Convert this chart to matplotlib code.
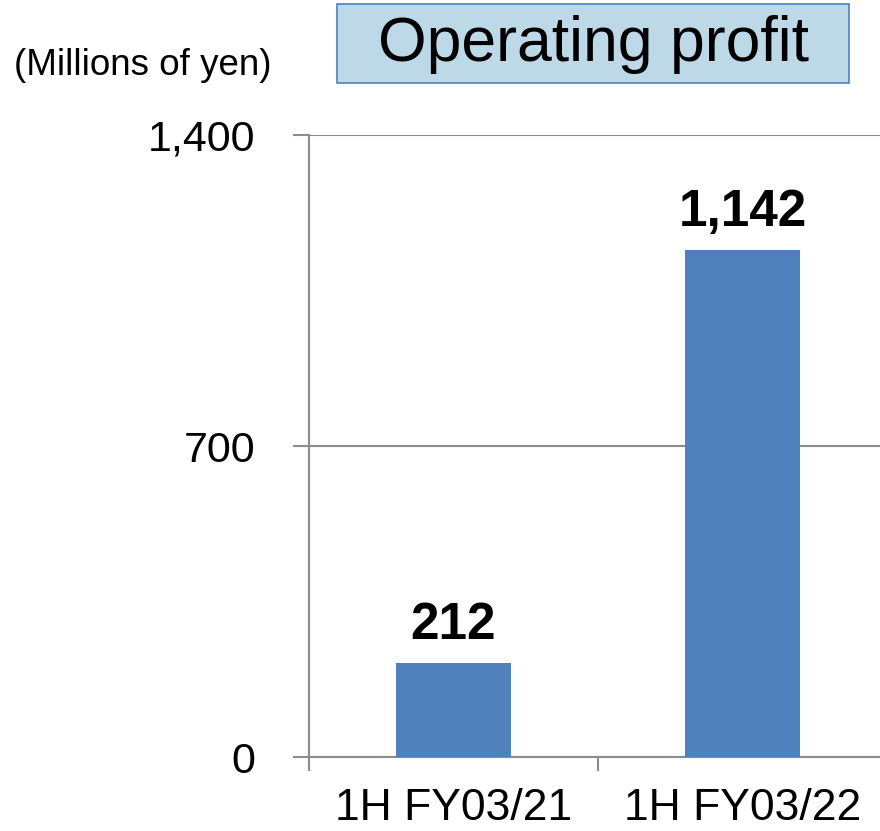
""" Operating profit, first half comparison """

import matplotlib.pyplot as plt
from matplotlib.patches import Rectangle
from matplotlib.ticker import FuncFormatter

periods = ['1H FY03/21', '1H FY03/22']
profit = [212, 1142]
y_ticks = [0, 700, 1400]


def main():
    plt.rcParams['font.family'] = ['Liberation Sans', 'DejaVu Sans']

    fig = plt.figure(figsize=(8.8, 8.31), dpi=100)
    ax = fig.add_axes([0.351, 0.089, 0.657, 0.7485])

    xs = range(len(periods))
    ax.bar(xs, profit, width=0.4, color='#4F81BD', zorder=3)

    for x, v in zip(xs, profit):
        ax.annotate(f'{v:,}', (x, v), xytext=(0, 9), textcoords='offset points',
                    ha='center', va='bottom', fontsize=37, fontweight='bold')

    ax.set_xlim(-0.5, len(periods) - 0.5)
    ax.set_ylim(0, 1400)
    ax.set_yticks(y_ticks)
    ax.yaxis.set_major_formatter(FuncFormatter(lambda v, p: f'{int(v):,}'))
    ax.set_xticks(list(xs))
    ax.set_xticklabels(periods)
    ax.set_xticks([-0.5, 0.5, 1.5], minor=True)

    ax.grid(axis='y', color='#8C8C8C', linewidth=1.5, zorder=0)
    for s in ['top', 'right']:
        ax.spines[s].set_visible(False)
    for s in ['left', 'bottom']:
        ax.spines[s].set_color('#8C8C8C')
        ax.spines[s].set_linewidth(1.5)

    ax.tick_params(axis='y', length=11.5, width=1.5, color='#8C8C8C',
                   labelsize=31, pad=27)
    ax.tick_params(axis='x', which='major', length=0, labelsize=32, pad=22)
    ax.tick_params(axis='x', which='minor', length=10, width=1.5, color='#8C8C8C')

    fig.text(0.162, 0.921, '(Millions of yen)', ha='center', va='center', fontsize=26.5)

    # title box drawn as its own patch so it can be wider than the text
    fig.patches.append(Rectangle((0.383, 0.900), 0.582, 0.095, transform=fig.transFigure,
                                 facecolor='#BDD9E7', edgecolor='#4F81BD', linewidth=1.2))
    fig.text(0.674, 0.947, 'Operating profit', ha='center', va='center', fontsize=45)

    plt.savefig('out.png')


if __name__ == '__main__':
    main()
